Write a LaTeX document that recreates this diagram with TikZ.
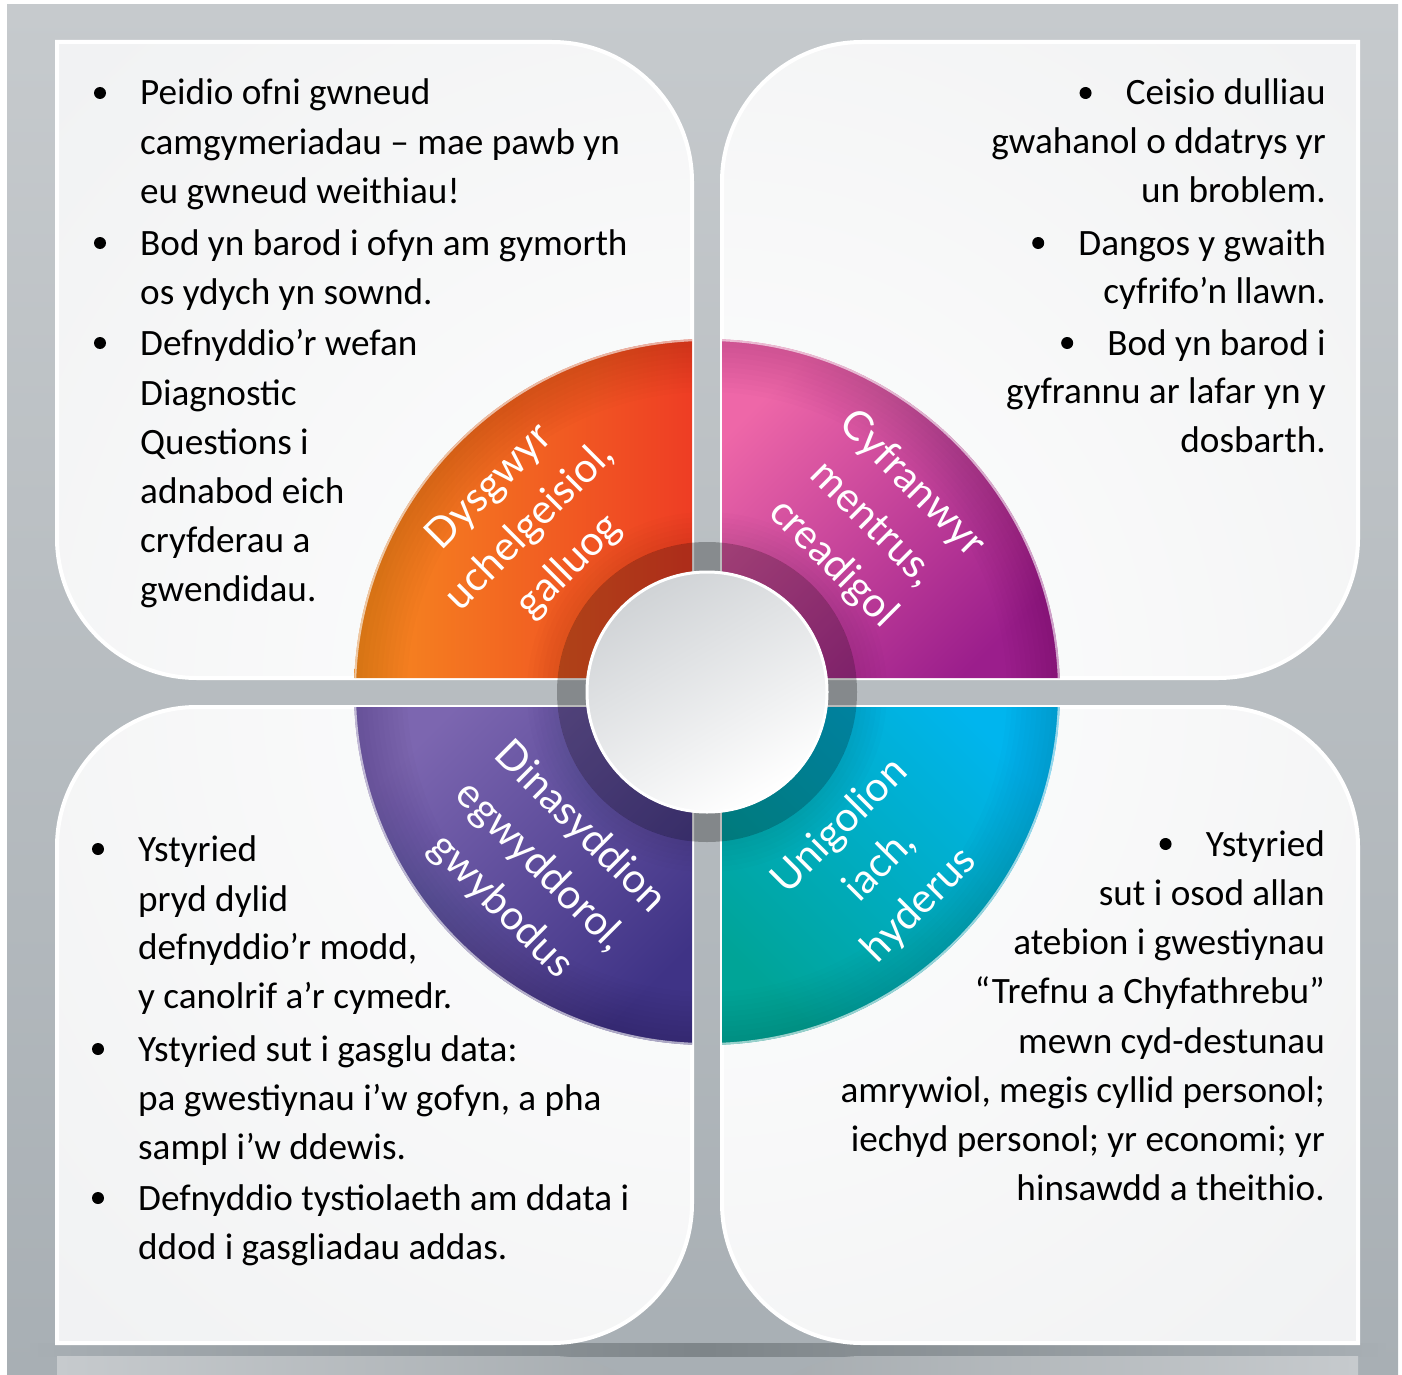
\documentclass[tikz,border=0pt]{standalone}
\usepackage{fontspec}
\setmainfont{Carlito}
\newfontfamily\labelfont{Lato}
\usetikzlibrary{calc}
\definecolor{bgtop}{HTML}{C6CACD}
\definecolor{bgbot}{HTML}{A8AFB4}
\definecolor{panelgray}{HTML}{E2E4E6}
\definecolor{shadowc}{HTML}{7E8589}
\definecolor{reflA}{HTML}{C6CACD}
\definecolor{reflB}{HTML}{A4AAAE}
\definecolor{orgL}{HTML}{F68B1F}
\definecolor{redR}{HTML}{EE3D24}
\definecolor{pinkTL}{HTML}{EE67A8}
\definecolor{purpBR}{HTML}{9B1E8C}
\definecolor{violTL}{HTML}{7C66B0}
\definecolor{violBR}{HTML}{3F3386}
\definecolor{cyanTR}{HTML}{00B5EE}
\definecolor{tealBL}{HTML}{00A497}
\definecolor{circgray}{HTML}{D0D3D6}
\newcommand\panelTL{(57,42) -- (552,42) .. controls (629.3,42) and (692,104.7) .. (692,182) -- (692,678) -- (197,678) .. controls (119.7,678) and (57,615.3) .. (57,538) -- cycle}
\newcommand\panelTR{(1358,42) -- (1358,538) .. controls (1358,615.3) and (1295.3,678) .. (1218,678) -- (722,678) -- (722,182) .. controls (722,104.7) and (784.7,42) .. (862,42) -- cycle}
\newcommand\panelBL{(57,1343) -- (57,847) .. controls (57,769.7) and (119.7,707) .. (197,707) -- (692,707) -- (692,1203) .. controls (692,1280.3) and (629.3,1343) .. (552,1343) -- cycle}
\newcommand\panelBR{(722,707) -- (1218,707) .. controls (1295.3,707) and (1358,769.7) .. (1358,847) -- (1358,1343) -- (862,1343) .. controls (784.7,1343) and (722,1280.3) .. (722,1203) -- cycle}
\tikzset{
  txt/.style={inner sep=0, font=\fontsize{37.2}{44}\selectfont, text=black},
  bul/.style={circle, fill=black, inner sep=0, minimum size=12},
  lbl/.style={inner sep=0, align=center, text=white, font=\labelfont\fontsize{41}{56}\selectfont},
}
\begin{document}
\begin{tikzpicture}[x=1pt,y=-1pt]
\useasboundingbox (0,0) rectangle (1402,1375);
% background
\shade[top color=bgtop, bottom color=bgbot] (7,5) rectangle (1398,1375);
\begin{scope}
  \clip (7,5) rectangle (1398,1375);
  \shade[left color=bgbot, right color=bgbot, middle color=shadowc] (30,1343) rectangle (1385,1356);
  \shade[left color=reflA, right color=reflB] (57,1356) -- (552,1356) .. controls (629.3,1356) and (692,1418.7) .. (692,1496) -- (57,1496) -- cycle;
  \shade[left color=reflB, right color=reflA] (862,1356) -- (1358,1356) -- (1358,1496) -- (722,1496) .. controls (722,1418.7) and (784.7,1356) .. (862,1356) -- cycle;
\end{scope}
% panels
\foreach \p in {\panelTL,\panelTR,\panelBL,\panelBR}{
  \begin{scope}
    \clip \p;
    \shade[inner color=white, outer color=panelgray] (707,692) circle (1850);
  \end{scope}
  \draw[white, line width=4] \p;
}
% ring quadrants
\begin{scope}
  \clip (353,338) rectangle (692,678) (722,338) rectangle (1062,678) (353,707) rectangle (692,1047) (722,707) rectangle (1062,1047);
  \begin{scope}
    \clip (707,692) circle (353);
    \shade[left color=orgL, right color=redR] (353,338) rectangle (692,678);
    \shade[top color=pinkTL, bottom color=purpBR, shading angle=45] (722,338) rectangle (1062,678);
    \shade[top color=violTL, bottom color=violBR, shading angle=45] (353,707) rectangle (692,1047);
    \shade[top color=cyanTR, bottom color=tealBL, shading angle=-45] (722,707) rectangle (1062,1047);
    \foreach \r in {300,305,...,350}{
      \fill[black, opacity=.012, even odd rule] (707,692) circle (353) (707,692) circle (\r);
    }
    \foreach \r in {155,160,...,180}{
      \fill[black, opacity=.012, even odd rule] (707,692) circle (\r) (707,692) circle (150);
    }
  \end{scope}
  \draw[white, opacity=.6, line width=2] (707,692) circle (352);
\end{scope}
% dark inner ring
\fill[black, opacity=.27, even odd rule] (707,692) circle (150) (707,692) circle (121);
% central circle
\shade[top color=circgray, bottom color=white, shading angle=30] (707,692) circle (121);
\draw[white, line width=3] (707,692) circle (120);
% ring labels
\node[lbl, rotate=45] (lab1) at (530,527) {Dysgwyr\\uchelgeisiol,\\galluog};
\node[lbl, rotate=-45] (lab2) at (872,524) {Cyfranwyr\\mentrus,\\creadigol};
\node[lbl, rotate=-45] (lab3) at (540,867) {Dinasyddion\\egwyddorol,\\gwybodus};
\node[lbl, rotate=45] (lab4) at (880,866) {Unigolion\\iach,\\hyderus};
% top-left text
\node[txt, anchor=base west] (a1) at (140,105) {Peidio ofni gwneud};
\node[txt, anchor=base west] (a2) at (140,155) {camgymeriadau – mae pawb yn};
\node[txt, anchor=base west] (a3) at (140,204) {eu gwneud weithiau!};
\node[txt, anchor=base west] (a4) at (140,255) {Bod yn barod i ofyn am gymorth};
\node[txt, anchor=base west] (a5) at (140,304) {os ydych yn sownd.};
\node[txt, anchor=base west] (a6) at (140,355) {Defnyddio’r wefan};
\node[txt, anchor=base west] (a7) at (140,405) {Diagnostic};
\node[txt, anchor=base west] (a8) at (140,454) {Questions i};
\node[txt, anchor=base west] (a9) at (140,503) {adnabod eich};
\node[txt, anchor=base west] (a10) at (140,552) {cryfderau a};
\node[txt, anchor=base west] (a11) at (140,601) {gwendidau.};
\node[bul] (ab1) at (100,93) {};
\node[bul] (ab2) at (100,243) {};
\node[bul] (ab3) at (100,343) {};
% top-right text
\node[txt, anchor=base east] (b1) at (1326,105) {Ceisio dulliau};
\node[txt, anchor=base east] (b2) at (1326,154) {gwahanol o ddatrys yr};
\node[txt, anchor=base east] (b3) at (1326,203) {un broblem.};
\node[txt, anchor=base east] (b4) at (1326,255) {Dangos y gwaith};
\node[txt, anchor=base east] (b5) at (1326,303) {cyfrifo’n llawn.};
\node[txt, anchor=base east] (b6) at (1326,355) {Bod yn barod i};
\node[txt, anchor=base east] (b7) at (1326,403) {gyfrannu ar lafar yn y};
\node[txt, anchor=base east] (b8) at (1326,452) {dosbarth.};
\node[bul] (bb1) at ($(b1.base west)+(-40,-12)$) {};
\node[bul] (bb2) at ($(b4.base west)+(-40,-12)$) {};
\node[bul] (bb3) at ($(b6.base west)+(-40,-12)$) {};
% bottom-left text
\node[txt, anchor=base west] (c1) at (138,861) {Ystyried};
\node[txt, anchor=base west] (c2) at (138,911) {pryd dylid};
\node[txt, anchor=base west] (c3) at (138,959) {defnyddio’r modd,};
\node[txt, anchor=base west] (c4) at (138,1008) {y canolrif a’r cymedr.};
\node[txt, anchor=base west] (c5) at (138,1061) {Ystyried sut i gasglu data:};
\node[txt, anchor=base west] (c6) at (138,1110) {pa gwestiynau i’w gofyn, a pha};
\node[txt, anchor=base west] (c7) at (138,1159) {sampl i’w ddewis.};
\node[txt, anchor=base west] (c8) at (138,1210) {Defnyddio tystiolaeth am ddata i};
\node[txt, anchor=base west] (c9) at (138,1259) {ddod i gasgliadau addas.};
\node[bul] (cb1) at (98,849) {};
\node[bul] (cb2) at (98,1049) {};
\node[bul] (cb3) at (98,1198) {};
% bottom-right text
\node[txt, anchor=base east] (d1) at (1325,856) {Ystyried};
\node[txt, anchor=base east] (d2) at (1325,905) {sut i osod allan};
\node[txt, anchor=base east] (d3) at (1325,954) {atebion i gwestiynau};
\node[txt, anchor=base east] (d4) at (1325,1003) {“Trefnu a Chyfathrebu”};
\node[txt, anchor=base east] (d5) at (1325,1053) {mewn cyd-destunau};
\node[txt, anchor=base east] (d6) at (1325,1102) {amrywiol, megis cyllid personol;};
\node[txt, anchor=base east] (d7) at (1325,1151) {iechyd personol; yr economi; yr};
\node[txt, anchor=base east] (d8) at (1325,1200) {hinsawdd a theithio.};
\node[bul] (db1) at ($(d1.base west)+(-40,-12)$) {};
\end{tikzpicture}
\end{document}
